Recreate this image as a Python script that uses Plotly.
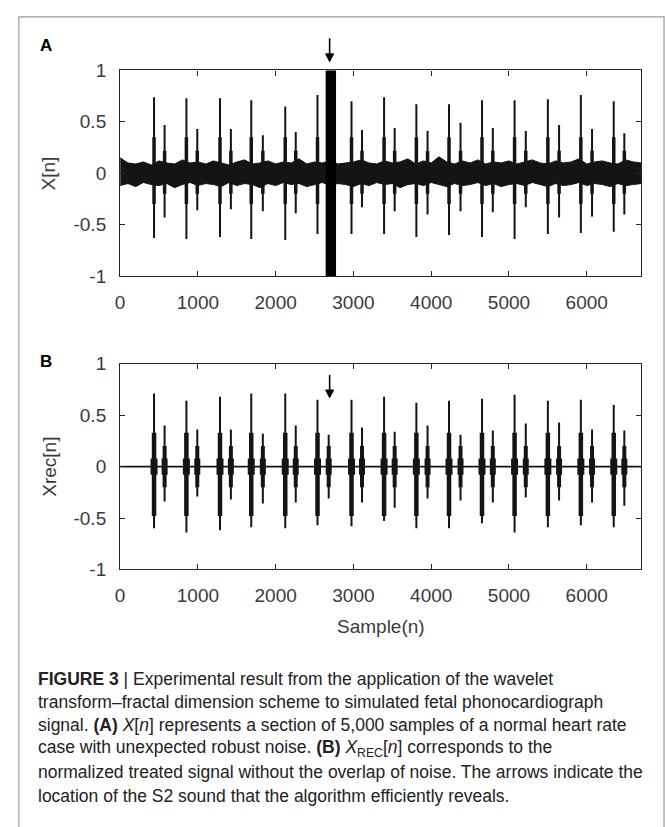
import plotly.graph_objects as go

# sample positions of the heart sounds
s1_pos = [436, 852, 1284, 1686, 2123, 2538, 2975, 3394, 3809, 4229, 4653, 5072, 5500, 5924, 6347]
s2_pos = [572, 992, 1424, 1835, 2258, 2682, 3110, 3530, 3953, 4377, 4792, 5216, 5644, 6068, 6483]

# panel A: noisy signal X[n]
a_s1_hi = [0.74, 0.73, 0.73, 0.71, 0.65, 0.76, 0.70, 0.74, 0.67, 0.67, 0.71, 0.71, 0.72, 0.76, 0.70]
a_s1_lo = [-0.63, -0.64, -0.62, -0.64, -0.65, -0.59, -0.59, -0.59, -0.62, -0.60, -0.62, -0.64, -0.59, -0.58, -0.57]
a_s2_hi = [0.47, 0.43, 0.43, 0.37, 0.40, 0.40, 0.42, 0.44, 0.41, 0.49, 0.44, 0.41, 0.47, 0.43, 0.39]
a_s2_lo = [-0.43, -0.36, -0.35, -0.37, -0.39, -0.40, -0.33, -0.37, -0.40, -0.37, -0.38, -0.33, -0.43, -0.42, -0.40]

# noise band envelope, every 100 samples from 0 to 6700
noise_x = list(range(0, 6800, 100))
noise_hi = [0.15, 0.10, 0.09, 0.11, 0.08, 0.12, 0.10, 0.09, 0.13, 0.10,
            0.11, 0.09, 0.12, 0.10, 0.08, 0.11, 0.13, 0.09, 0.10, 0.12,
            0.09, 0.11, 0.10, 0.14, 0.09, 0.11, 0.10, 0.12, 0.09, 0.10,
            0.11, 0.13, 0.10, 0.09, 0.12, 0.10, 0.11, 0.14, 0.09, 0.12,
            0.10, 0.16, 0.11, 0.09, 0.12, 0.10, 0.13, 0.09, 0.11, 0.10,
            0.12, 0.09, 0.11, 0.13, 0.10, 0.09, 0.12, 0.10, 0.11, 0.14,
            0.09, 0.11, 0.12, 0.10, 0.09, 0.13, 0.11, 0.10]
noise_lo = [-0.12, -0.10, -0.13, -0.09, -0.11, -0.12, -0.10, -0.14, -0.11, -0.09,
            -0.12, -0.10, -0.11, -0.13, -0.09, -0.12, -0.10, -0.11, -0.14, -0.10,
            -0.12, -0.09, -0.11, -0.10, -0.13, -0.11, -0.09, -0.12, -0.10, -0.11,
            -0.13, -0.10, -0.12, -0.09, -0.11, -0.10, -0.14, -0.11, -0.10, -0.12,
            -0.09, -0.11, -0.13, -0.10, -0.12, -0.11, -0.09, -0.12, -0.10, -0.13,
            -0.11, -0.10, -0.12, -0.09, -0.11, -0.13, -0.10, -0.12, -0.11, -0.09,
            -0.12, -0.10, -0.11, -0.13, -0.10, -0.12, -0.11, -0.10]

# burst of robust noise hiding the S2 sound
burst_x = [2643, 2770]
burst_amp = 1.1
arrow_sample = 2694

# panel B: reconstructed signal Xrec[n]
b_s1_hi = [0.71, 0.64, 0.68, 0.71, 0.71, 0.65, 0.65, 0.68, 0.62, 0.64, 0.66, 0.70, 0.64, 0.65, 0.60]
b_s1_lo = [-0.60, -0.64, -0.62, -0.59, -0.60, -0.57, -0.58, -0.53, -0.60, -0.60, -0.55, -0.64, -0.59, -0.57, -0.59]
b_s2_hi = [0.40, 0.36, 0.36, 0.32, 0.40, 0.31, 0.38, 0.34, 0.40, 0.31, 0.35, 0.42, 0.43, 0.36, 0.35]
b_s2_lo = [-0.34, -0.29, -0.32, -0.36, -0.35, -0.31, -0.35, -0.40, -0.31, -0.33, -0.35, -0.30, -0.33, -0.35, -0.38]

# dense body of each sound (low, high)
a_s1_body = [-0.3, 0.35]
a_s2_body = [-0.2, 0.22]
b_s1_body = [-0.48, 0.33]
b_s2_body = [-0.2, 0.2]
core = [-0.08, 0.08]

x_ticks = [0, 1000, 2000, 3000, 4000, 5000, 6000]
y_ticks = [-1, -0.5, 0, 0.5, 1]
y_labels = ['-1', '-0.5', '0', '0.5', '1']

W, H = 667, 827
INK = '#141414'
AX = '#262626'
TXT = '#3a3a3a'
SANS = 'Liberation Sans, Arial, sans-serif'
XSPAN = 6700
PLOT_W = 525  # pixel width of each plot area


def segs(pos, lo, hi):
    xs, ys = [], []
    for p, l, h in zip(pos, lo, hi):
        xs += [p, p, None]
        ys += [l, h, None]
    return xs, ys


def px(x):
    return x / W


def py(y):
    return 1 - y / H


def add_lines(xs, ys, width, xa, ya):
    fig.add_trace(go.Scatter(x=xs, y=ys, mode='lines', line=dict(color=INK, width=width),
                             xaxis=xa, yaxis=ya, hoverinfo='skip'))


fig = go.Figure()

# ---- panel A ----
add_lines(noise_x, noise_hi, 1, 'x', 'y')
fig.add_trace(go.Scatter(x=noise_x, y=noise_lo, mode='lines', line=dict(color=INK, width=1),
                         fill='tonexty', fillcolor=INK, xaxis='x', yaxis='y', hoverinfo='skip'))
for pos, lo, hi in [(s1_pos, a_s1_lo, a_s1_hi), (s2_pos, a_s2_lo, a_s2_hi)]:
    xs, ys = segs(pos, lo, hi)
    add_lines(xs, ys, 2, 'x', 'y')
for pos, body, w in [(s1_pos, a_s1_body, 3.5), (s2_pos, a_s2_body, 3.5)]:
    xs, ys = segs(pos, [body[0]] * len(pos), [body[1]] * len(pos))
    add_lines(xs, ys, w, 'x', 'y')
fig.add_trace(go.Scatter(x=[burst_x[0], burst_x[1], burst_x[1], burst_x[0]],
                         y=[-burst_amp, -burst_amp, burst_amp, burst_amp],
                         mode='lines', fill='toself', fillcolor='black',
                         line=dict(color='black', width=1), xaxis='x', yaxis='y'))

# ---- panel B ----
add_lines([0, XSPAN], [0, 0], 1.6, 'x2', 'y2')
for pos, lo, hi in [(s1_pos, b_s1_lo, b_s1_hi), (s2_pos, b_s2_lo, b_s2_hi)]:
    xs, ys = segs(pos, lo, hi)
    add_lines(xs, ys, 2, 'x2', 'y2')
for pos, body, w in [(s1_pos, b_s1_body, 4.5), (s2_pos, b_s2_body, 4), (s1_pos, core, 7), (s2_pos, core, 6)]:
    xs, ys = segs(pos, [body[0]] * len(pos), [body[1]] * len(pos))
    add_lines(xs, ys, w, 'x2', 'y2')

tick_font = dict(family=SANS, size=19, color=TXT)
xax = dict(range=[0, XSPAN], tickvals=x_ticks, ticks='inside', ticklen=5, tickcolor=AX,
           showline=True, linecolor=AX, linewidth=1.2, mirror='ticks', showgrid=False,
           zeroline=False, tickfont=tick_font, ticklabelstandoff=9, domain=[px(116), px(641)])
yax = dict(range=[-1, 1], tickvals=y_ticks, ticktext=y_labels, ticks='inside', ticklen=5,
           tickcolor=AX, showline=True, linecolor=AX, linewidth=1.2, mirror='ticks',
           showgrid=False, zeroline=False, tickfont=tick_font, ticklabelstandoff=9)

fig.update_layout(
    width=W, height=H, margin=dict(l=0, r=0, t=0, b=0),
    paper_bgcolor='white', plot_bgcolor='white', showlegend=False,
    xaxis=dict(xax, anchor='y'),
    yaxis=dict(yax, anchor='x', domain=[py(273), py(62)]),
    xaxis2=dict(xax, anchor='y2'),
    yaxis2=dict(yax, anchor='x2', domain=[py(574), py(363)]),
)

# outer frame
fig.add_shape(type='rect', xref='paper', yref='paper', x0=px(14), x1=px(664), y0=-0.05, y1=py(7),
              line=dict(color='#9a9a9a', width=1.2), layer='below')

# arrows pointing at the S2 sound (shaft + filled head)
hw = 4 * XSPAN / PLOT_W
fig.add_shape(type='line', xref='x', yref='paper', x0=arrow_sample, x1=arrow_sample,
              y0=py(29), y1=py(46), line=dict(color='black', width=1.6))
fig.add_shape(type='path', xref='x', yref='paper', fillcolor='black', line=dict(color='black', width=1),
              path=f'M {arrow_sample - hw},{py(45)} L {arrow_sample + hw},{py(45)} L {arrow_sample},{py(53)} Z')
fig.add_shape(type='line', xref='x2', yref='y2', x0=arrow_sample, x1=arrow_sample,
              y0=0.89, y1=0.74, line=dict(color='black', width=1.6))
fig.add_shape(type='path', xref='x2', yref='y2', fillcolor='black', line=dict(color='black', width=1),
              path=f'M {arrow_sample - hw},0.745 L {arrow_sample + hw},0.745 L {arrow_sample},0.67 Z')

label_font = dict(family=SANS, size=19, color=TXT)
ann = [
    dict(text='<b>A</b>', x=px(41), y=py(36), font=dict(family=SANS, size=17, color='black')),
    dict(text='<b>B</b>', x=px(41), y=py(361), font=dict(family=SANS, size=17, color='black')),
    dict(text='X[n]', x=px(44), y=py(168), textangle=-90, font=label_font),
    dict(text='Xrec[n]', x=px(44), y=py(469), textangle=-90, font=label_font),
    dict(text='Sample(n)', x=px(379), y=py(633), font=label_font),
]
for a in ann:
    fig.add_annotation(xref='paper', yref='paper', showarrow=False, xanchor='center',
                       yanchor='middle', **a)

caption = [
    '<b>FIGURE 3</b> | Experimental result from the application of the wavelet',
    'transform\u2013fractal dimension scheme to simulated fetal phonocardiograph',
    'signal. <b>(A)</b> <i>X</i>[<i>n</i>] represents a section of 5,000 samples of a normal heart rate',
    'case with unexpected robust noise. <b>(B)</b> <i>X</i><sub>REC</sub>[<i>n</i>] corresponds to the',
    'normalized treated signal without the overlap of noise. The arrows indicate the',
    'location of the S2 sound that the algorithm efficiently reveals.',
]
cap_font = dict(family=SANS, size=17.5, color='#222222')
for i, line in enumerate(caption):
    fig.add_annotation(xref='paper', yref='paper', x=px(31), y=py(686 + 24 * i), xanchor='left',
                       yanchor='middle', text=line, showarrow=False, font=cap_font)

fig.write_html('out.html', config={'displayModeBar': False},
               post_script="document.body.style.margin='0px';")
